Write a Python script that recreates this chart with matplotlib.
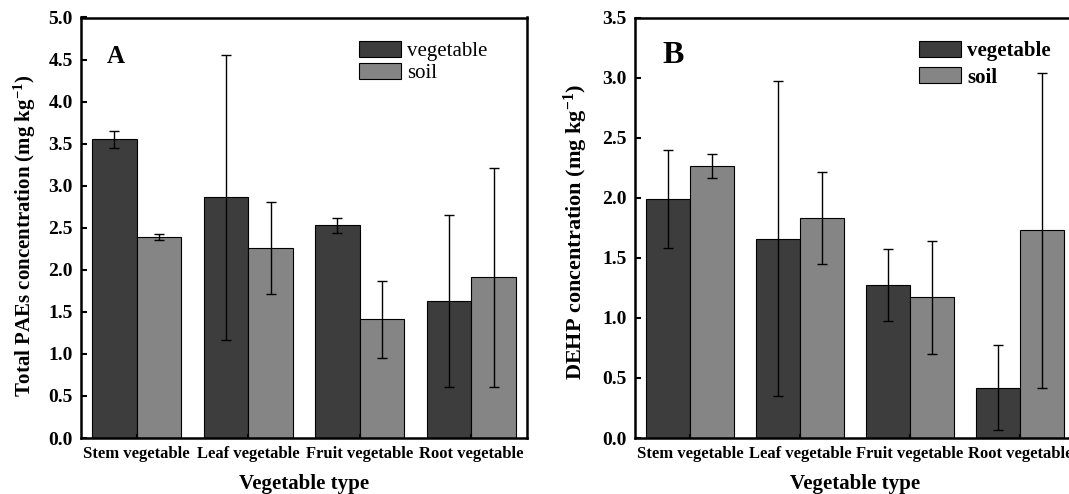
import numpy as np
import matplotlib
matplotlib.use("Agg")
import matplotlib.pyplot as plt

# data
categories = ["Stem vegetable", "Leaf vegetable", "Fruit vegetable", "Root vegetable"]

paes_veg = [3.55, 2.86, 2.53, 1.63]
paes_veg_err = [0.10, 1.70, 0.09, 1.02]
paes_soil = [2.39, 2.26, 1.41, 1.91]
paes_soil_err = [0.03, 0.55, 0.46, 1.30]

dehp_veg = [1.99, 1.66, 1.27, 0.42]
dehp_veg_err = [0.41, 1.31, 0.30, 0.35]
dehp_soil = [2.26, 1.83, 1.17, 1.73]
dehp_soil_err = [0.10, 0.38, 0.47, 1.31]

veg_color = "#3d3d3d"
soil_color = "#858585"

plt.rcParams["font.family"] = ["Liberation Serif", "DejaVu Serif"]
plt.rcParams["font.weight"] = "bold"
plt.rcParams["mathtext.fontset"] = "custom"
plt.rcParams["mathtext.rm"] = "Liberation Serif"
plt.rcParams["mathtext.bf"] = "Liberation Serif:bold"

W, H = 1069, 494
fig = plt.figure(figsize=(W / 100, H / 100), dpi=100)

axA = fig.add_axes([81 / W, 1 - 438 / H, 446 / W, 420.5 / H])
axB = fig.add_axes([635 / W, 1 - 438 / H, 440 / W, 420.5 / H])


def draw(ax, veg, veg_err, soil, soil_err, ymax, ylabel, ylabel_size, label_pos,
         letter, letter_xy, letter_size, legend_weight, legend_pos, legend_spacing):
    x = np.arange(len(categories))
    w = 0.4
    ekw = dict(elinewidth=1.0, capthick=1.0, ecolor="black")
    ax.bar(x - w / 2, veg, w, yerr=veg_err, capsize=3.5, color=veg_color,
           edgecolor="black", linewidth=0.8, label="vegetable", error_kw=ekw)
    ax.bar(x + w / 2, soil, w, yerr=soil_err, capsize=3.5, color=soil_color,
           edgecolor="black", linewidth=0.8, label="soil", error_kw=ekw)
    ax.set_xlim(-0.5, 3.5)
    ax.set_ylim(0, ymax)
    ticks = np.arange(0, ymax + 0.01, 0.5)
    ax.set_yticks(ticks)
    ax.set_yticklabels([f"{v:.1f}" for v in ticks])
    ax.set_xticks(x)
    ax.set_xticklabels(categories, fontsize=12, fontweight="bold")
    ax.tick_params(axis="y", direction="in", length=4, width=1.5, labelsize=14, pad=6)
    ax.tick_params(axis="x", direction="in", length=3, width=1.5, pad=6)
    for s in ax.spines.values():
        s.set_linewidth(1.8)
    ax.set_ylabel(ylabel, fontsize=ylabel_size, fontweight="bold")
    ax.yaxis.set_label_coords(*label_pos)
    ax.set_xlabel("Vegetable type", fontsize=15, fontweight="bold")
    ax.xaxis.set_label_coords(0.5, -0.086)
    ax.text(letter_xy[0], letter_xy[1], letter, transform=fig.transFigure,
            fontsize=letter_size, fontweight="bold", ha="left", va="baseline")
    ax.legend(loc="upper left", bbox_to_anchor=legend_pos, bbox_transform=fig.transFigure,
              frameon=False, borderpad=0, borderaxespad=0, handlelength=2.0,
              handleheight=0.8, handletextpad=0.3, labelspacing=legend_spacing,
              prop=dict(size=15, weight=legend_weight))


draw(axA, paes_veg, paes_veg_err, paes_soil, paes_soil_err, 5.0,
     "Total PAEs concentration (mg kg$\\mathbf{^{-1}}$)", 15, (-0.096, 0.48),
     "A", (107 / W, 1 - 63 / H), 18, "normal", (359 / W, 1 - 41 / H), 0.1)
draw(axB, dehp_veg, dehp_veg_err, dehp_soil, dehp_soil_err, 3.5,
     "DEHP concentration (mg kg$\\mathbf{^{-1}}$)", 16, (-0.102, 0.49),
     "B", (662 / W, 1 - 63 / H), 23, "bold", (919 / W, 1 - 41 / H), 0.3)

fig.savefig("out.png", dpi=100)
